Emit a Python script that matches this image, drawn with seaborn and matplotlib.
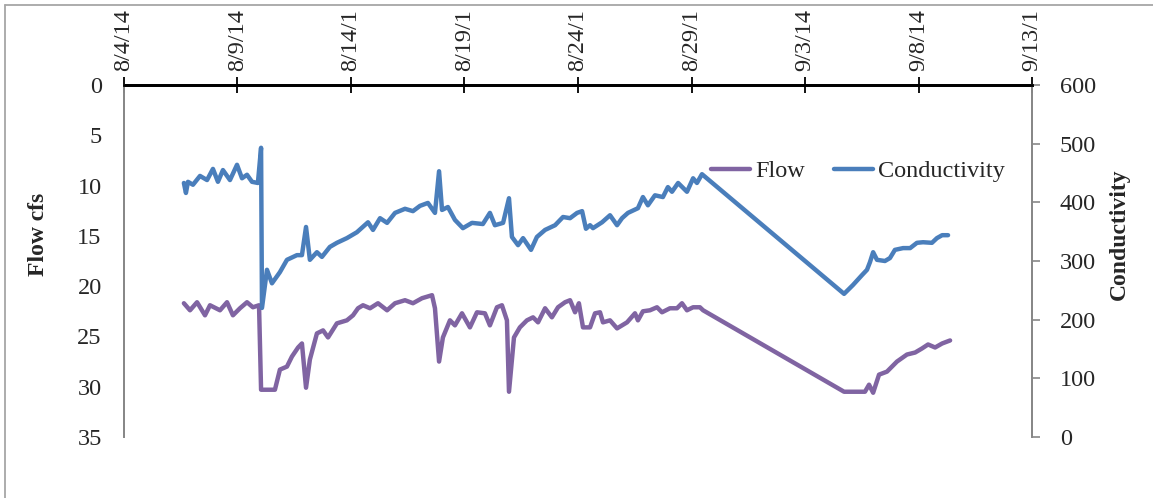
import matplotlib
matplotlib.use("Agg")
import matplotlib.pyplot as plt
from matplotlib.lines import Line2D
import seaborn as sns
import pandas as pd

# days after 8/4/14 00:00
cond_days = [2.64, 2.73, 2.82, 3.04, 3.35, 3.66, 3.92, 4.14, 4.36, 4.67, 4.98, 5.20, 5.42, 5.64, 5.90,
             6.04, 6.08, 6.30, 6.52, 6.87, 7.18, 7.62, 7.84, 8.02, 8.19, 8.50, 8.72, 9.07, 9.38, 9.82,
             10.26, 10.75, 10.97, 11.28, 11.59, 11.94, 12.38, 12.73, 13.04, 13.39, 13.70, 13.88, 14.01,
             14.27, 14.58, 14.93, 15.33, 15.81, 16.12, 16.34, 16.70, 16.96, 17.09, 17.36, 17.58, 17.93,
             18.19, 18.55, 18.99, 19.34, 19.65, 19.96, 20.18, 20.35, 20.53, 20.66, 21.06, 21.41, 21.72,
             21.94, 22.20, 22.64, 22.86, 23.08, 23.39, 23.74, 23.96, 24.14, 24.41, 24.80, 25.07, 25.24,
             25.46, 31.72, 32.11, 32.51, 32.73, 32.86, 33.00, 33.17, 33.52, 33.74, 33.96, 34.32, 34.63,
             34.93, 35.20, 35.59, 35.81, 36.04, 36.30]
conductivity = [433, 416, 435, 430, 445, 438, 457, 435, 455, 438, 464, 441, 447, 435, 433,
                493, 220, 285, 262, 281, 302, 310, 310, 358, 302, 315, 307, 324, 331, 339,
                349, 366, 353, 373, 365, 382, 389, 385, 394, 399, 382, 453, 387,
                392, 370, 356, 365, 363, 382, 361, 365, 407, 341, 327, 339, 319,
                341, 353, 361, 375, 373, 382, 385, 355, 361, 356, 366, 378, 361,
                373, 382, 390, 409, 395, 412, 409, 426, 418, 433, 418, 441, 433,
                448, 244, 259, 276, 285, 298, 315, 302, 300, 305, 319, 322, 322,
                331, 332, 331, 339, 344, 344]

flow_days = [2.64, 2.91, 3.22, 3.57, 3.79, 4.23, 4.54, 4.80, 5.11, 5.42, 5.68, 5.95, 6.04, 6.65,
             6.87, 7.18, 7.40, 7.67, 7.84, 8.02, 8.19, 8.50, 8.77, 8.99, 9.38, 9.82, 10.09, 10.31,
             10.53, 10.84, 11.19, 11.59, 11.94, 12.38, 12.73, 13.13, 13.57, 13.70, 13.88, 14.05,
             14.36, 14.58, 14.89, 15.24, 15.55, 15.90, 16.12, 16.43, 16.65, 16.87, 16.96, 17.18,
             17.44, 17.75, 18.02, 18.24, 18.55, 18.85, 19.12, 19.43, 19.65, 19.87, 20.04, 20.22,
             20.53, 20.75, 20.97, 21.10, 21.41, 21.72, 22.16, 22.51, 22.64, 22.86, 23.17, 23.48,
             23.70, 24.05, 24.36, 24.58, 24.80, 25.07, 25.37, 25.51, 31.72, 32.64, 32.82, 33.00,
             33.26, 33.61, 34.05, 34.49, 34.85, 35.15, 35.42, 35.73, 36.04, 36.39]
flow = [21.7, 22.4, 21.6, 22.9, 21.9, 22.4, 21.6, 22.9, 22.2, 21.6, 22.1, 21.9, 30.3, 30.3,
        28.3, 28.0, 27.0, 26.1, 25.7, 30.1, 27.3, 24.7, 24.4, 25.1, 23.7, 23.4, 22.9, 22.2,
        21.9, 22.2, 21.7, 22.4, 21.7, 21.4, 21.7, 21.2, 20.9, 22.2, 27.5, 25.1,
        23.4, 23.9, 22.7, 24.1, 22.6, 22.7, 23.9, 22.1, 21.9, 23.4, 30.5, 25.1,
        24.1, 23.4, 23.1, 23.6, 22.2, 23.1, 22.1, 21.6, 21.4, 22.6, 21.7, 24.1,
        24.1, 22.7, 22.6, 23.6, 23.4, 24.2, 23.6, 22.7, 23.4, 22.5, 22.4, 22.1,
        22.6, 22.2, 22.2, 21.7, 22.4, 22.1, 22.1, 22.4, 30.5, 30.5, 29.8, 30.6,
        28.8, 28.5, 27.5, 26.8, 26.6, 26.2, 25.8, 26.1, 25.7, 25.4]

tick_dates = ["2014-08-04", "2014-08-09", "2014-08-14", "2014-08-19", "2014-08-24",
              "2014-08-29", "2014-09-03", "2014-09-08", "2014-09-13"]
tick_labels = ["8/4/14", "8/9/14", "8/14/1", "8/19/1", "8/24/1",
               "8/29/1", "9/3/14", "9/8/14", "9/13/1"]
flow_ticks = [0, 5, 10, 15, 20, 25, 30, 35]
cond_ticks = [0, 100, 200, 300, 400, 500, 600]

start = pd.Timestamp("2014-08-04")
flow_df = pd.DataFrame({"time": start + pd.to_timedelta(flow_days, unit="D"), "Flow": flow})
cond_df = pd.DataFrame({"time": start + pd.to_timedelta(cond_days, unit="D"), "Conductivity": conductivity})

sns.set_style("white")
plt.rcParams["font.family"] = ["Liberation Serif", "DejaVu Serif"]
plt.rcParams["font.size"] = 17.5

fig = plt.figure(figsize=(11.53, 4.98), dpi=100)
ax = fig.add_axes([0.1075, 0.1225, 0.7876, 0.7068])
ax2 = ax.twinx()

flow_color = "#8064A2"
cond_color = "#4A7EBB"
sns.lineplot(data=flow_df, x="time", y="Flow", ax=ax, color=flow_color, linewidth=3.2, label="Flow", legend=False)
sns.lineplot(data=cond_df, x="time", y="Conductivity", ax=ax2, color=cond_color, linewidth=3.2,
             label="Conductivity", legend=False)

ax.set_xlim(pd.Timestamp(tick_dates[0]), pd.Timestamp(tick_dates[-1]))
ax.set_ylim(35, 0)
ax2.set_ylim(0, 600)

# x axis at the top
ax.xaxis.tick_top()
ax.set_xticks([pd.Timestamp(d) for d in tick_dates])
ax.set_xticklabels(tick_labels, rotation=90, fontsize=17.5)
ax.tick_params(axis="x", which="both", direction="inout", length=12, width=1.3, color="black", pad=4,
               top=True, bottom=False)
ax.set_xlabel("")

ax.set_yticks(flow_ticks)
ax.set_yticklabels([str(t) for t in flow_ticks], fontsize=17.5)
ax.tick_params(axis="y", left=False, length=0, pad=16)
ax.set_ylabel("Flow cfs", fontsize=17, fontweight="bold")
ax.yaxis.set_label_coords(-0.083, 0.577)

ax2.set_yticks(cond_ticks)
ax2.set_yticklabels([str(t) for t in cond_ticks], fontsize=17.5)
ax2.tick_params(axis="y", right=True, direction="out", length=6, width=1.2, color="#878787", pad=14)
ax2.set_ylabel("Conductivity", fontsize=17, fontweight="bold")
ax2.yaxis.set_label_coords(1.085, 0.577)
ax2.set_xlabel("")

for a in (ax, ax2):
    a.spines["bottom"].set_visible(False)
    a.spines["top"].set_color("black")
    a.spines["top"].set_linewidth(2.0)
    a.spines["left"].set_color("#878787")
    a.spines["left"].set_linewidth(1.3)
    a.spines["right"].set_color("#878787")
    a.spines["right"].set_linewidth(1.3)
    a.grid(False)

h1, l1 = ax.get_legend_handles_labels()
h2, l2 = ax2.get_legend_handles_labels()
ax2.legend(h1 + h2, l1 + l2, loc="center right", bbox_to_anchor=(0.994, 0.755), ncol=2, frameon=False,
           fontsize=17.5, handlelength=1.6, handletextpad=0.2, columnspacing=1.2)

# chart area border (left and top edges visible)
fig.add_artist(Line2D([0.0045, 0.0045], [0.0, 0.99], color="#A6A6A6", linewidth=1.3))
fig.add_artist(Line2D([0.0045, 1.0], [0.99, 0.99], color="#A6A6A6", linewidth=1.3))

fig.savefig("out.png", dpi=100)
